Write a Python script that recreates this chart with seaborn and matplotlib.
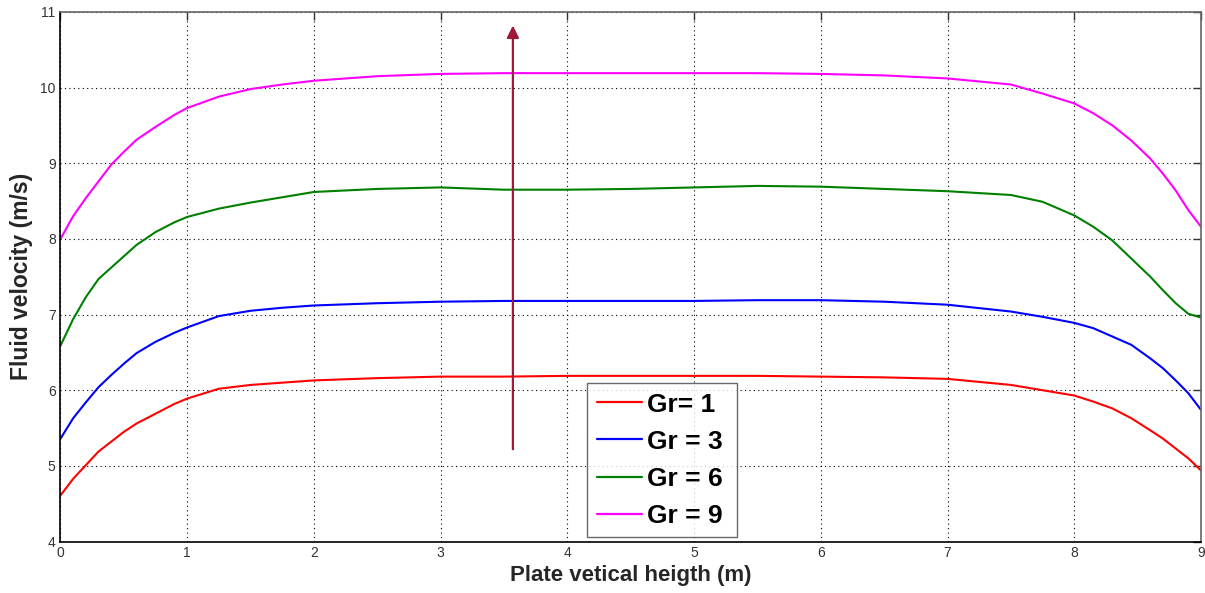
import numpy as np
import pandas as pd
import seaborn as sns
import matplotlib
matplotlib.use("Agg")
import matplotlib.pyplot as plt

x_vals = [0, 0.1, 0.2, 0.3, 0.4, 0.5, 0.6, 0.75, 0.9, 1, 1.25, 1.5, 1.75, 2, 2.5, 3, 3.5, 4,
          4.5, 5, 5.5, 6, 6.5, 7, 7.5, 7.75, 8, 8.15, 8.3, 8.45, 8.6, 8.7, 8.8, 8.9, 9]

gr1 = [4.61, 4.83, 5.01, 5.19, 5.32, 5.45, 5.56, 5.69, 5.82, 5.89, 6.02, 6.07, 6.10, 6.13, 6.16, 6.18,
       6.18, 6.19, 6.19, 6.19, 6.19, 6.18, 6.17, 6.15, 6.07, 6.00, 5.93, 5.85, 5.76, 5.63, 5.47, 5.36,
       5.23, 5.10, 4.94]
gr3 = [5.36, 5.63, 5.84, 6.04, 6.20, 6.35, 6.49, 6.64, 6.76, 6.83, 6.98, 7.05, 7.09, 7.12, 7.15, 7.17,
       7.18, 7.18, 7.18, 7.18, 7.19, 7.19, 7.17, 7.13, 7.04, 6.97, 6.89, 6.82, 6.71, 6.60, 6.42, 6.29,
       6.13, 5.96, 5.74]
gr6 = [6.59, 6.94, 7.23, 7.47, 7.62, 7.77, 7.92, 8.09, 8.22, 8.29, 8.40, 8.48, 8.55, 8.62, 8.66, 8.68,
       8.65, 8.65, 8.66, 8.68, 8.70, 8.69, 8.66, 8.63, 8.58, 8.49, 8.31, 8.16, 7.98, 7.74, 7.50, 7.32,
       7.15, 7.01, 6.96]
gr9 = [8.00, 8.30, 8.54, 8.76, 8.98, 9.15, 9.31, 9.48, 9.64, 9.73, 9.88, 9.98, 10.04, 10.09, 10.15,
       10.18, 10.19, 10.19, 10.19, 10.19, 10.19, 10.18, 10.16, 10.12, 10.04, 9.92, 9.79, 9.66, 9.50,
       9.30, 9.06, 8.86, 8.64, 8.38, 8.16]

labels = ["Gr= 1", "Gr = 3", "Gr = 6", "Gr = 9"]
colors = ["#ff0000", "#0000ff", "#008000", "#ff00ff"]
x_ticks = [0, 1, 2, 3, 4, 5, 6, 7, 8, 9]
y_ticks = [4, 5, 6, 7, 8, 9, 10, 11]
arrow_x = 3.57
arrow_y = [5.22, 10.82]

frames = []
for lab, vals in zip(labels, [gr1, gr3, gr6, gr9]):
    frames.append(pd.DataFrame({"x": x_vals, "y": vals, "series": lab}))
df = pd.concat(frames, ignore_index=True)

sns.set_style("white")
plt.rcParams['font.family'] = ['Liberation Sans', 'DejaVu Sans']

fig = plt.figure(figsize=(12.05, 5.93), dpi=100)
ax = fig.add_axes([0.0502, 0.0867, 0.9465, 0.8933])

sns.lineplot(data=df, x="x", y="y", hue="series", hue_order=labels,
             palette=dict(zip(labels, colors)), linewidth=1.5, ax=ax,
             legend=True, sort=False)

ax.annotate("", xy=(arrow_x, arrow_y[1]), xytext=(arrow_x, arrow_y[0]),
            arrowprops=dict(arrowstyle="-|>", color="#a0183a", lw=1.6,
                            mutation_scale=18, shrinkA=0, shrinkB=0))

ax.set_xlim(0, 9)
ax.set_ylim(4, 11)
ax.set_xticks(x_ticks)
ax.set_yticks(y_ticks)
ax.grid(True, linestyle=(0, (1, 3)), color="black", linewidth=0.8)
ax.tick_params(direction="in", length=6, width=1, top=True, right=True,
               labelsize=10, labelcolor="#333333", colors="#333333")
for s in ["left", "bottom"]:
    ax.spines[s].set_color("black")
    ax.spines[s].set_linewidth(1.2)
for s in ["top", "right"]:
    ax.spines[s].set_color("#666666")
    ax.spines[s].set_linewidth(1.2)

ax.set_xlabel("Plate vetical heigth (m)", fontsize=16, fontweight="bold", labelpad=3)
ax.set_ylabel("Fluid velocity (m/s)", fontsize=16.5, fontweight="bold", labelpad=5)

leg = ax.legend(loc="lower left", bbox_to_anchor=(0.462, 0.008, 0.131, 0.292),
                mode="expand", prop={"weight": "bold", "size": 19},
                frameon=True, fancybox=False, edgecolor="#444444",
                handlelength=1.7, handletextpad=0.2, borderaxespad=0,
                labelspacing=0.5, borderpad=0.35, labelcolor="black")
leg.get_frame().set_linewidth(1.0)
for h in leg.get_lines():
    h.set_linewidth(1.6)

fig.savefig("out.png", dpi=100, facecolor="white")
